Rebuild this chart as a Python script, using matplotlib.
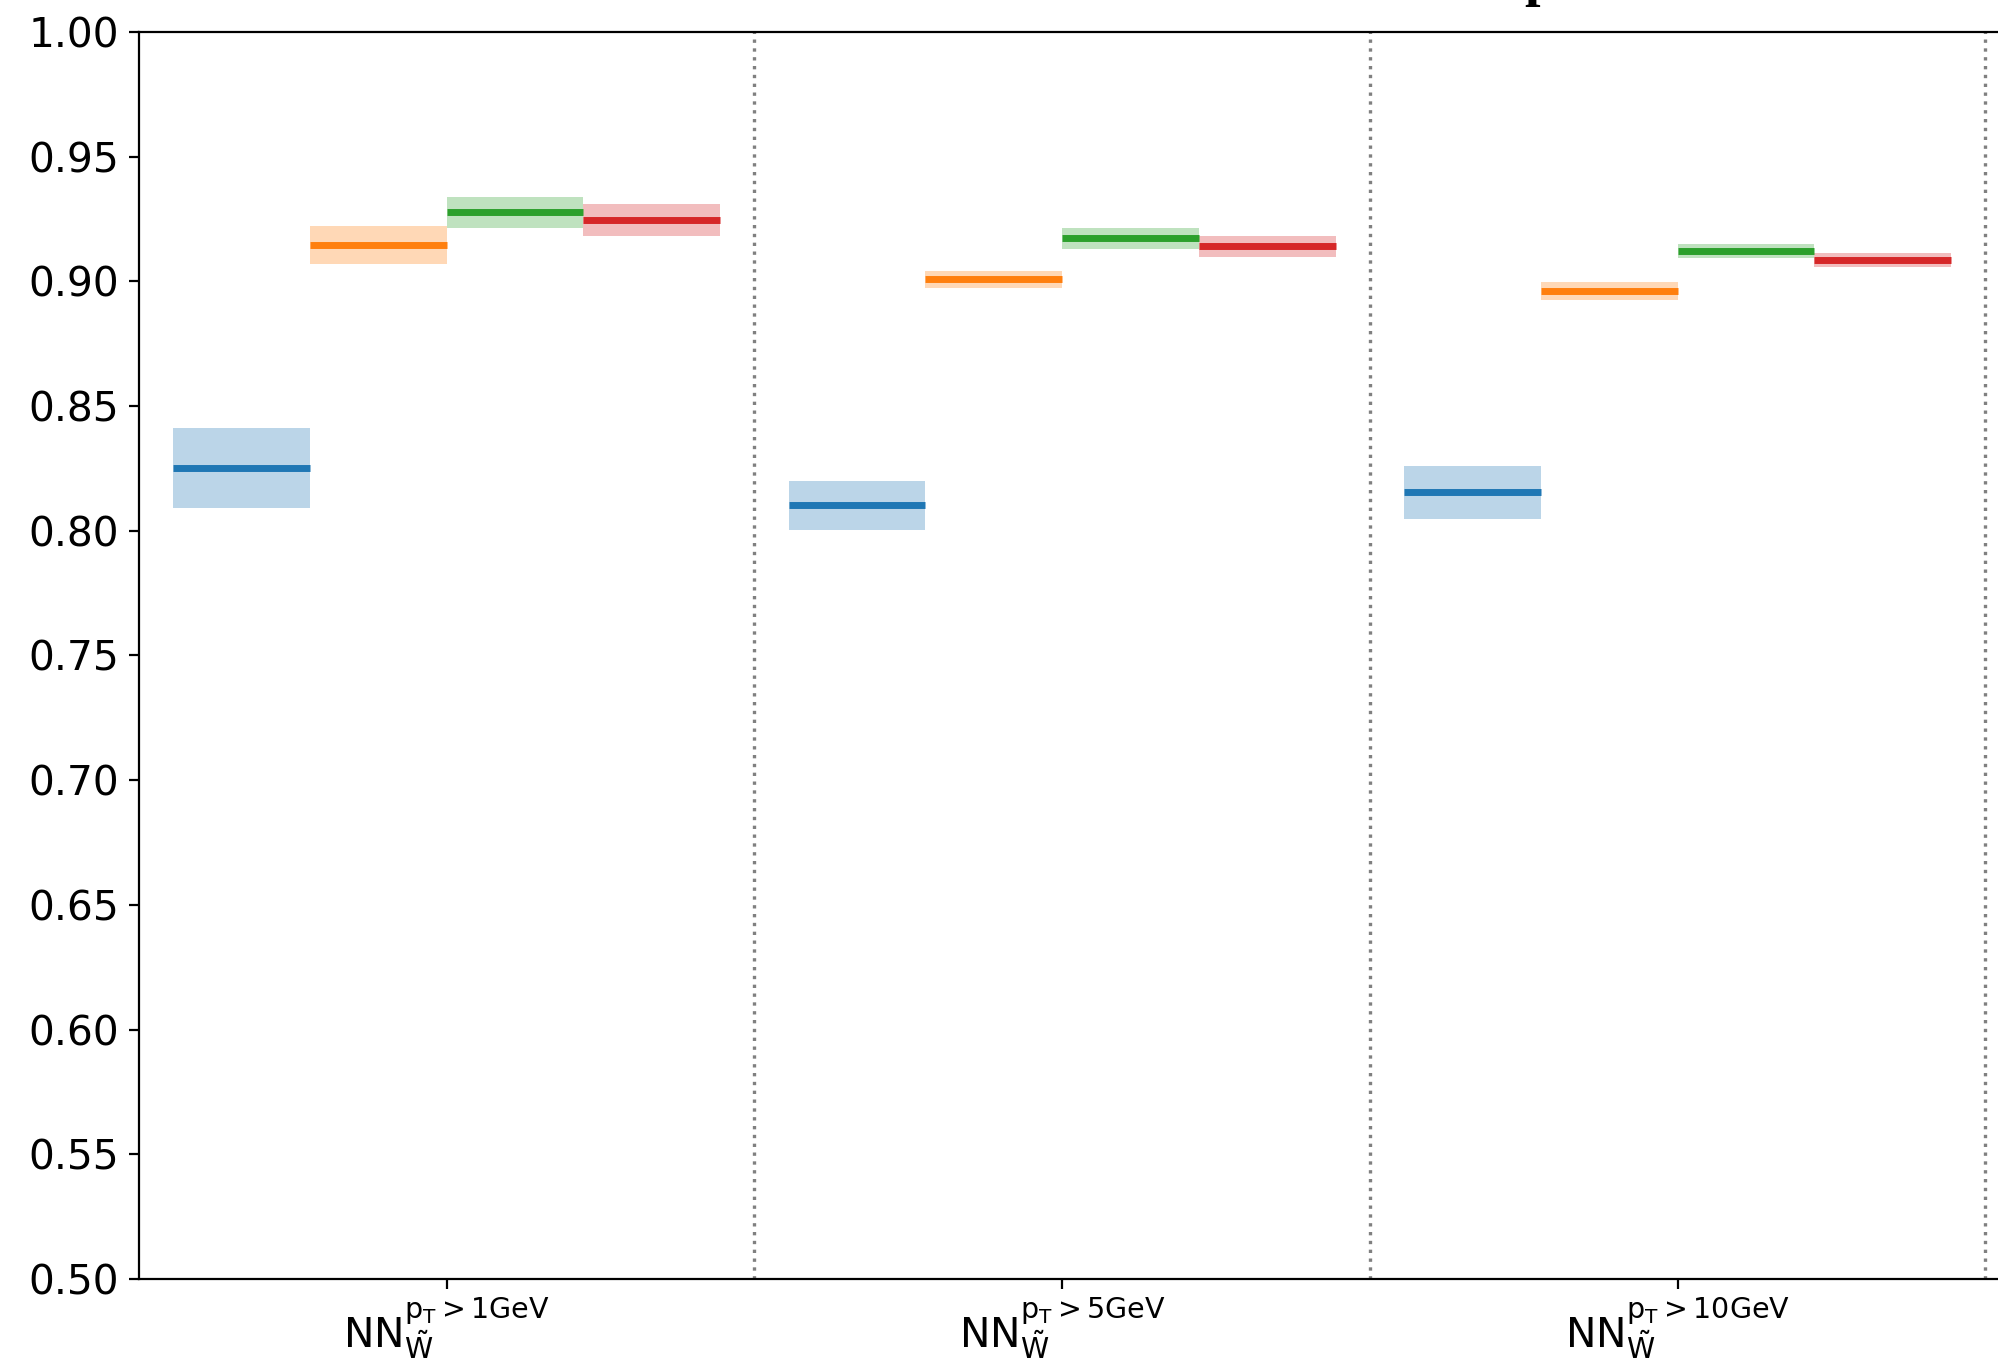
import numpy as np
import matplotlib
matplotlib.use("Agg")
import matplotlib.pyplot as plt

# pT cut groups
groups = [r"NN$_{\tilde{\mathrm{W}}}^{\mathrm{p_T > 1GeV}}$",
          r"NN$_{\tilde{\mathrm{W}}}^{\mathrm{p_T > 5GeV}}$",
          r"NN$_{\tilde{\mathrm{W}}}^{\mathrm{p_T > 10GeV}}$"]

# one row per model, one column per group
central = [[0.8253, 0.8103, 0.8155],
           [0.9144, 0.9009, 0.8963],
           [0.9277, 0.9174, 0.9122],
           [0.9245, 0.9141, 0.9086]]
lower = [[0.8091, 0.8003, 0.8048],
         [0.9071, 0.8973, 0.8926],
         [0.9215, 0.9130, 0.9095],
         [0.9182, 0.9098, 0.9058]]
upper = [[0.8412, 0.8199, 0.8259],
         [0.9222, 0.9042, 0.8997],
         [0.9338, 0.9214, 0.9150],
         [0.9310, 0.9182, 0.9114]]

colors = ['tab:blue', 'tab:orange', 'tab:green', 'tab:red']

fig = plt.figure(figsize=(9.995, 6.805), dpi=200)
ax = fig.add_axes([0.0695, 0.0603, 0.9545, 0.9162])

n = len(colors)
w = 1.0 / (n + 0.5)
xg = np.arange(len(groups))

for i in range(n):
    lo = np.array(lower[i])
    hi = np.array(upper[i])
    xc = xg - 0.5 * (n - 1) * w + i * w
    ax.bar(xc, hi - lo, bottom=lo, width=w, color=colors[i], alpha=0.3, linewidth=0)
    ax.hlines(central[i], xc - w / 2, xc + w / 2, colors=colors[i], linewidth=2.5)

for k in range(len(groups)):
    ax.axvline(k + 0.5, color='gray', linestyle=':', linewidth=1.2)

ax.set_xlim(-0.5, 2.6)
ax.set_ylim(0.5, 1.0)
ax.set_yticks(np.arange(0.5, 1.001, 0.05))
ax.yaxis.set_major_formatter(matplotlib.ticker.FormatStrFormatter('%.2f'))
ax.set_xticks(xg)
ax.set_xticklabels(groups)
ax.tick_params(labelsize=14.7)
ax.tick_params(axis='x', pad=2.2)

# title sits above the saved area, only its descender shows
fig.text(0.7625, 1.0037, "p", fontsize=20, family='Liberation Serif',
         fontweight='bold', ha='left', va='baseline')

fig.savefig("out.png", dpi=200)
